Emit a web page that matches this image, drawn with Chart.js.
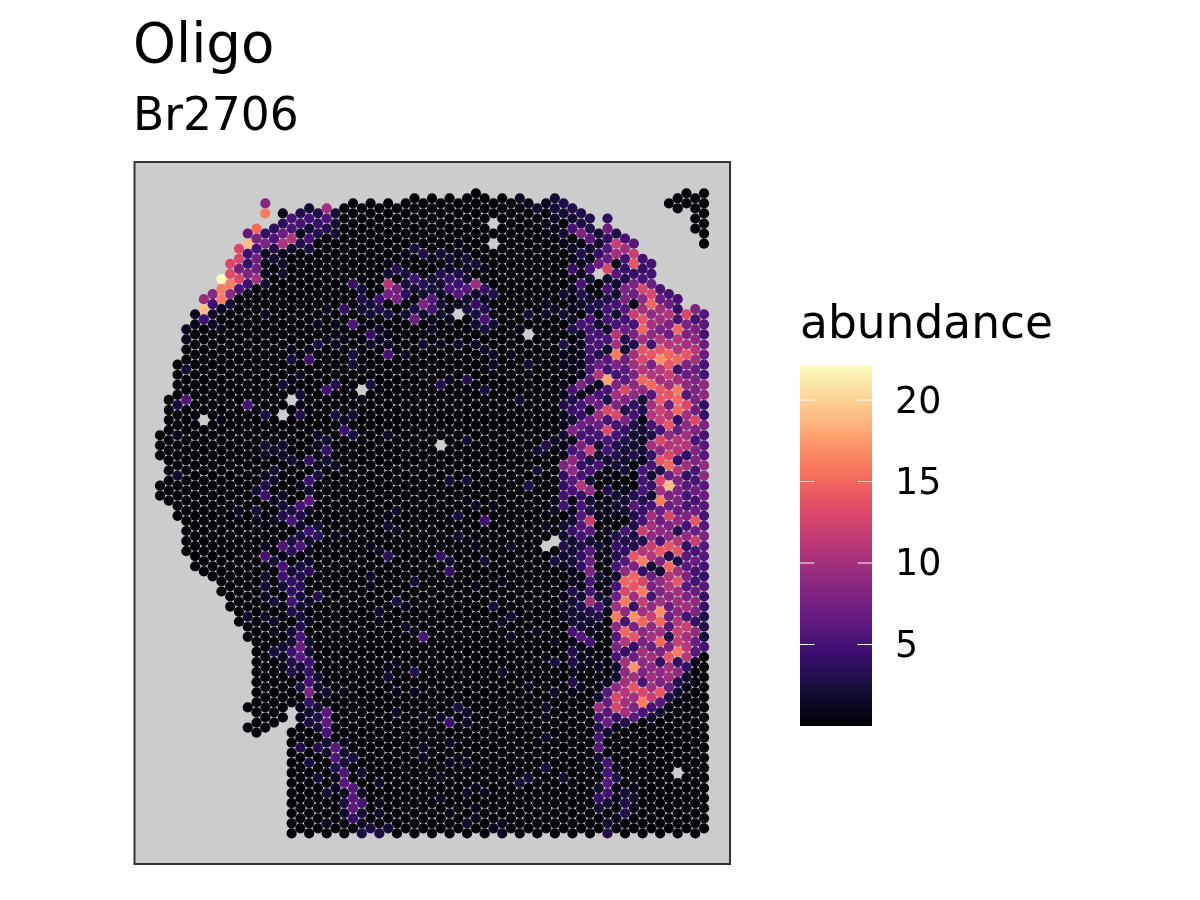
<!DOCTYPE html>
<html>
<head>
<meta charset="utf-8">
<title>Oligo</title>
<script src="https://cdn.jsdelivr.net/npm/chart.js@4/dist/chart.umd.min.js"></script>
<style>
    html, body { margin: 0; padding: 0; background: #ffffff; }
    canvas { display: block; }
</style>
</head>
<body>
<canvas id="spots" width="1200" height="900"></canvas>
<script>
const titleText = 'Oligo'
const subtitleText = 'Br2706'
const legendTitle = 'abundance'
const legendTicks = [5, 10, 15, 20]

// spots sit on a hex grid: column index, then half-row index
const columnTop = [48,41,34,27,24,21,20,17,14,11,8,7,2,7,4,5,4,3,4,3,4,3,2,3,2,3,2,3,2,1,2,1,2,1,2,1,0,1,2,1,2,1,2,3,2,1,2,3,4,5,8,5,8,9,10,13,14,19,2,1,0,1,0]
const columnBottom = [60,61,64,71,74,75,76,79,82,85,106,107,106,105,104,127,126,127,126,127,126,127,126,127,126,127,126,127,126,127,126,127,126,127,126,127,126,127,126,127,126,127,126,127,126,127,126,127,126,127,126,127,126,127,126,127,126,127,126,127,126,127,126]
const columnGaps = [[0,54,56],[10,90,100],[10,104,104],[12,6,6],[15,103,105],[58,4,18],[59,5,19],[60,4,22],[61,9,21],[62,12,22]]
const holes = [[38,6],[38,10],[50,16],[34,24],[42,28],[32,50],[44,70],[45,69],[59,115],[23,39],[15,41],[14,44],[5,45]]

// abundance of the dark spots that make up most of the tissue
const darkValue = 0.15

// right hand band, one string per column, base 36 abundance, going down from bandFirstRow
const bandFirstColumn = 46
const bandFirstRow = [2,3,4,5,8,5,8,9,10,13,14,19,20,21,24,23,24]
const bandValues = [
    '320210000202003110113112118445502232100111',
    '3250114111113001105342815996511242221132225133131',
    '33813115320511111815475864 5b45665344112322611101'.split(' ').join(''),
    '33621520235555456171755c352923c6267855a321511',
    '22470003125537b157a7522510011002102025310001112a535621024200',
    '47467d2535525265i53d5d5520031101111011210000001676720055652023',
    '3ca1622525bag858a8d5533200221034352' + '57ag9685229dd410001311010',
    '5a5438865732766d838432220122053469fdg95fb4a9abaa300000023300',
    '6ce4871c583aa899453223000363333e8fea4h8e47haea8600000012100',
    '545d9aefaedbf92312121555345c3bg4dgcaf98a985dg5',
    '557df9a95e8bf6ab53a452425aa9cb27859c9a7a9aac52',
    '57aa8behbaeecc5d9e3dag7795e8298ahfaf8498e62',
    '57b87bfecae7be9bdf7j87d89e3fbb977638eaa731',
    '545fbbf5agff47bb4b888793be3aeaa9bccg4932',
    'd88ae8796da9ab4a4655859466868a5cabb421',
    '8589ba78887d858855757e7c575579849761',
    '66577559944856699676568665464 43325'.split(' ').join('')
]

// brighter spots in the rest of the tissue: column, half-row, abundance
const brightSpots = [
    [12,2,8.5],[12,4,16],[14,4,1],[15,5,5.5],[16,4,3],[16,6,5],[17,3,2],[17,5,5],[18,4,3],[18,6,4],[19,3,10],[19,5,5.5],[20,4,2],[20,6,2],[19,7,3],[20,8,2],[18,8,3],[16,8,1],[17,7,2],[17,9,5],
    [14,6,3.5],[15,7,5.5],[13,7,3.5],[11,7,15],[12,8,4],[10,8,6.5],[14,8,7],[11,9,8],[13,9,5.5],[15,9,11],[10,10,19],[12,10,8],[14,10,10.5],[16,10,3],[9,11,13],[11,11,5],[13,11,3],[15,11,1.5],[17,11,2.5],
    [10,12,4.5],[12,12,1.5],[14,12,1],[9,13,13],[11,13,7.5],[13,13,2],[8,14,13],[10,14,4],[12,14,0.8],[14,14,1.5],[9,15,7.5],[11,15,7],[14,16,2],[8,16,13.5],[10,16,8],[12,16,1],[7,17,22],[9,17,13],[11,17,10],
    [8,18,16],[10,18,4.5],[12,18,2],[7,19,16],[9,19,5],[6,20,8.5],[8,20,8.5],[10,20,1],[5,21,9.5],[7,21,16],[6,22,4.5],[8,22,2],[7,23,1],[5,23,19],[4,24,1],[6,24,1.5],[5,25,4.5],[4,26,1],[6,26,1.5],[3,27,1],[7,27,1],[3,29,1],[12,24,1],
    [29,11,2],[30,12,3],[28,12,1],[27,15,3],[26,16,2],[26,14,1],[28,16,2.5],[29,17,4.5],[26,18,11],[27,19,7.5],[28,18,2.5],[30,18,3.5],[22,18,4],[23,19,2],[26,20,7.5],[28,20,3.5],[29,19,2],[30,20,2],[27,21,8],[25,21,4.5],[23,21,3],[24,22,2],[21,23,4],[19,23,1],[23,23,2],[25,23,3],[24,24,2],[26,24,2.5],[28,24,2],[30,22,8],[29,23,2.5],[30,24,2],[29,25,7],[22,26,5.5],[20,26,1],[18,26,1],[24,28,4],[25,27,1.5],[25,29,1.5],[26,30,1.5],[26,28,1],[18,30,2.5],[19,29,1],[20,30,1],[21,29,1],[23,30,1],[15,31,1],[17,31,1],[17,33,4.5],[15,33,2.5],[21,32,2],[22,32,2.5],[26,32,5],[28,32,1.5],[30,30,1.5],[24,30,1.5],[22,34,2],[14,38,2],[19,39,4.5],[20,38,3],[24,38,2.5],[16,36,1],[15,37,1],[3,35,2],
    [16,40,2],[23,41,1],[3,41,5.5],[2,42,2.5],[10,42,5],[16,42,1],[12,44,2.5],[16,44,3],[20,44,2.5],[22,44,2],[21,45,1.5],[7,45,1],[21,47,4.5],[22,48,2.5],[26,48,1.5],[18,48,1.5],[19,49,2],[2,48,1],[12,50,2],[14,50,2],[18,50,1],[19,51,4],[13,51,1.5],[12,52,1.5],[14,52,1.5],[15,53,2],[17,53,4],[18,52,1],[19,53,2],[20,54,1.5],[18,54,1],[13,55,2],[2,56,2],[18,56,2.5],[12,56,1.5],[13,57,1.5],[17,57,4.5],[12,58,3],[11,59,2],[17,59,2],[16,58,1],[12,60,4.5],[14,60,1.5],[17,61,6],[16,62,5],[13,61,1],[14,62,2],[15,63,2.5],[17,63,1.5],[9,63,1],[11,63,2],[14,64,3],[16,64,3],[15,65,5],[13,65,1.5],[11,65,1],[16,66,1.5],[18,66,2],[17,67,4.5],[18,68,3.5],[16,68,2.5],[20,68,1],[15,69,2.5],[17,69,2],[14,70,5.5],[16,70,5.5],[12,70,1],[15,71,3.5],[17,71,1],[12,72,5],[14,72,1],[13,73,2],[17,73,1.5],[14,74,5],[16,74,2.5],[15,75,2],[17,75,3.5],[14,76,4.5],[16,76,3],[12,76,1.5],[15,77,4],[12,78,2],[16,78,3.5],[14,78,2],[15,79,4],[13,81,2.5],[15,81,5],[16,80,2.5],[17,81,1.5],[18,80,3],[12,80,1],[16,82,2],
    [27,63,1.5],[26,64,1],[26,66,2],[27,67,1.5],[26,72,3.5],[25,71,1],[24,70,1],[24,76,1.5],[29,77,2],[27,81,2.5],[28,82,1],[24,78,1],
    [15,83,3],[16,84,2.5],[10,84,1.5],[12,84,1.5],[13,85,1.5],[16,86,3],[17,85,1],[15,87,2],[16,88,5],[13,87,1],[17,89,1.5],[16,90,7],[15,89,2],[14,90,2],[13,91,2.5],[15,91,4.5],[17,91,2],[16,92,6],[14,92,1],[15,93,3],[17,93,4.5],[16,94,2],[15,95,3],[17,95,4],[14,94,1],[17,97,5],[18,96,2],[16,96,1],[16,98,2.5],[18,98,1.5],[17,99,8],[19,99,2],[17,101,4],[18,102,2],[16,102,1],[19,103,6],[17,103,2],[16,104,1],[18,104,3],[19,105,6.5],[17,105,2.5],[18,106,2],[19,107,5],[20,110,6],[18,110,3],[16,110,3],[19,109,2],[21,109,1],[20,112,5.5],[19,111,1.5],[21,111,2],[22,112,2.5],[17,113,2.5],[21,113,2.5],[20,114,3],[21,115,5.5],[23,115,2],[18,116,2],[20,116,1],[21,117,6],[25,117,1],[22,118,6],[20,118,1.5],[19,119,2],[21,119,1.5],[23,119,1.5],[22,120,6],[21,121,2.5],[23,121,5],[25,121,1],[22,122,6.5],[21,123,1.5],[23,123,2],[25,123,1.5],[22,124,4],[23,125,1.5],[24,126,2.5],[23,127,2.5],[25,127,2.5],[26,126,2],[19,125,1],[21,125,1],[28,86,1.5],[30,88,5],[29,87,1],[29,95,3],[26,96,2],[26,94,1],[27,93,1],[29,99,1],[27,99,1],[21,99,1],[27,103,1.5],[30,104,1],[30,110,1.5],[30,112,1.5],[25,85,1],[25,83,2],
    [32,12,2],[34,10,1],[33,13,2],[35,13,2],[34,12,1],[32,16,3],[34,16,3],[33,15,1.5],[35,15,1.5],[36,14,2.5],[37,15,1],[31,13,1],[31,17,2],[33,17,4],[34,18,4.5],[35,17,2],[32,18,2],[36,18,9.5],[31,19,2.5],[33,19,5],[35,19,6],[37,19,4],[34,20,6],[32,20,1.5],[36,20,2],[38,20,3],[31,21,6],[33,23,1],[35,21,1.5],[37,21,1.5],[31,23,5],[36,22,4],[32,22,2],[34,22,1],[37,23,3],[35,23,2.5],[36,24,2.5],[38,24,1],[33,25,1],[37,25,5],[36,26,2],[38,26,2],[31,25,1],[32,24,1.5],[37,27,2.5],[42,24,2],[41,27,1],[44,24,1.5],[45,23,1.5],[44,22,1],[31,27,1],
    [34,30,1.5],[37,31,1.5],[36,30,1],[32,30,1],[38,32,1.5],[40,32,1],[37,34,1],[38,34,1.5],[42,34,2],[33,37,1.5],[35,37,3],[32,38,3],[45,1,2],[44,2,1],[45,3,2],[43,3,1.5],[45,5,1.5],[44,6,1],[45,7,1],[42,2,1],[41,1,1],
    [37,39,2.5],[41,41,2],[35,49,2],[43,51,2],[44,50,3],[45,49,1.5],[44,52,1],[43,55,2],[33,57,2],[35,57,2],[42,58,3],[36,62,1.5],[38,62,1],[34,64,2.5],[37,65,4.5],[44,66,1.5],[34,68,1.5],[36,70,1],[40,70,1.5],[32,72,4],[33,73,2],[37,73,2],[33,75,4],[33,77,1],[39,77,1],[36,78,1],[38,82,2],[45,73,2.5],[45,63,1.5],[45,61,1],
    [40,84,2],[39,85,1.5],[40,88,1.5],[43,87,1],[45,89,1],[44,92,1],[45,93,2.5],[39,95,1.5],[42,98,1],[45,99,1.5],[34,102,2.5],[35,103,1.5],[44,102,1.5],[32,104,1.5],[44,104,1],[33,105,4.5],[35,105,1.5],[44,108,1.5],[33,109,1],[34,112,1],[33,113,1.5],[35,113,1.5],[44,114,2.5],[32,116,1],[46,116,2],[42,116,2],[41,117,2],[36,118,1],[35,119,1.5],[37,119,1],[32,120,1],[33,123,1],[36,122,1],[35,125,1.5],[36,124,1],[39,125,1],[39,127,1],[38,126,1]
]

// magma colour ramp
const magma = ['#000004','#140e36','#3b0f70','#641a80','#8c2981','#b73779','#de4968','#f7705c','#fe9f6d','#fecf92','#fcfdbf']
const abundanceMax = 22.09

function hexToRgb(hex) {
    return [1, 3, 5].map(i => parseInt(hex.substr(i, 2), 16))
}

function magmaColor(value) {
    let t = Math.min(Math.max(value / abundanceMax, 0), 1) * (magma.length - 1)
    let low = Math.min(Math.floor(t), magma.length - 2)
    let a = hexToRgb(magma[low])
    let b = hexToRgb(magma[low + 1])
    let mix = a.map((c, i) => Math.round(c + (b[i] - c) * (t - low)))
    return 'rgb(' + mix.join(',') + ')'
}

let brightLookup = {}
brightSpots.forEach(s => { brightLookup[s[0] + ':' + s[1]] = s[2] })

function spotValue(col, row) {
    let bright = brightLookup[col + ':' + row]
    if (bright !== undefined) {
        return bright
    }
    let band = col - bandFirstColumn
    if (band >= 0) {
        let ch = bandValues[band][(row - bandFirstRow[band]) / 2]
        if (ch && ch !== '0') {
            return parseInt(ch, 36)
        }
    }
    return darkValue
}

function isMissing(col, row) {
    return holes.some(h => h[0] == col && h[1] == row)
        || columnGaps.some(g => g[0] == col && row >= g[1] && row <= g[2])
}

let points = []
columnTop.forEach((top, col) => {
    for (let row = top; row <= columnBottom[col]; row += 2) {
        if (!isMissing(col, row)) {
            points.push({ x: col, y: row, v: spotValue(col, row) })
        }
    }
})

const panelAndLegend = {
    id: 'panelAndLegend',
    beforeDatasetsDraw(chart) {
        const { ctx, chartArea: a } = chart
        ctx.save()
        ctx.fillStyle = '#cccccc'
        ctx.fillRect(a.left, a.top, a.width, a.height)
        ctx.restore()
    },
    afterDatasetsDraw(chart) {
        const { ctx, chartArea: a } = chart
        ctx.save()
        ctx.strokeStyle = '#333333'
        ctx.lineWidth = 2
        ctx.strokeRect(a.left, a.top, a.width, a.height)

        ctx.fillStyle = '#000000'
        ctx.textBaseline = 'alphabetic'
        ctx.textAlign = 'left'
        ctx.font = '54.6px "DejaVu Sans"'
        ctx.fillText(titleText, 133, 62)
        ctx.font = '45.5px "DejaVu Sans"'
        ctx.fillText(subtitleText, 133, 130)
        ctx.fillText(legendTitle, 800, 338)

        // colour bar
        const barLeft = 800, barWidth = 72, barTop = 366, barHeight = 360
        let grad = ctx.createLinearGradient(0, barTop + barHeight, 0, barTop)
        magma.forEach((c, i) => grad.addColorStop(i / (magma.length - 1), c))
        ctx.fillStyle = grad
        ctx.fillRect(barLeft, barTop, barWidth, barHeight)

        ctx.font = '36.4px "DejaVu Sans"'
        ctx.textBaseline = 'middle'
        legendTicks.forEach(tick => {
            let y = barTop + barHeight - tick / abundanceMax * barHeight
            ctx.strokeStyle = '#ffffff'
            ctx.lineWidth = 1
            ctx.beginPath()
            ctx.moveTo(barLeft, y)
            ctx.lineTo(barLeft + 14.4, y)
            ctx.moveTo(barLeft + barWidth - 14.4, y)
            ctx.lineTo(barLeft + barWidth, y)
            ctx.stroke()
            ctx.fillStyle = '#000000'
            ctx.fillText(String(tick), 895, y + 3)
        })
        ctx.restore()
    }
}

const config = {
    type: 'scatter',
    data: {
        datasets: [{
            label: 'abundance',
            data: points,
            pointRadius: 5.1,
            pointBorderWidth: 0,
            pointBackgroundColor: points.map(p => magmaColor(p.v))
        }]
    },
    options: {
        responsive: false,
        animation: false,
        layout: { padding: { left: 134.5, right: 470, top: 162, bottom: 36 } },
        plugins: {
            legend: { display: false },
            tooltip: { enabled: false }
        },
        scales: {
            x: { type: 'linear', display: false, min: -2.906, max: 64.96 },
            y: { type: 'linear', display: false, reverse: true, min: -6.21, max: 133.07 }
        }
    },
    plugins: [panelAndLegend]
}

new Chart(document.getElementById('spots'), config)
</script>
</body>
</html>
